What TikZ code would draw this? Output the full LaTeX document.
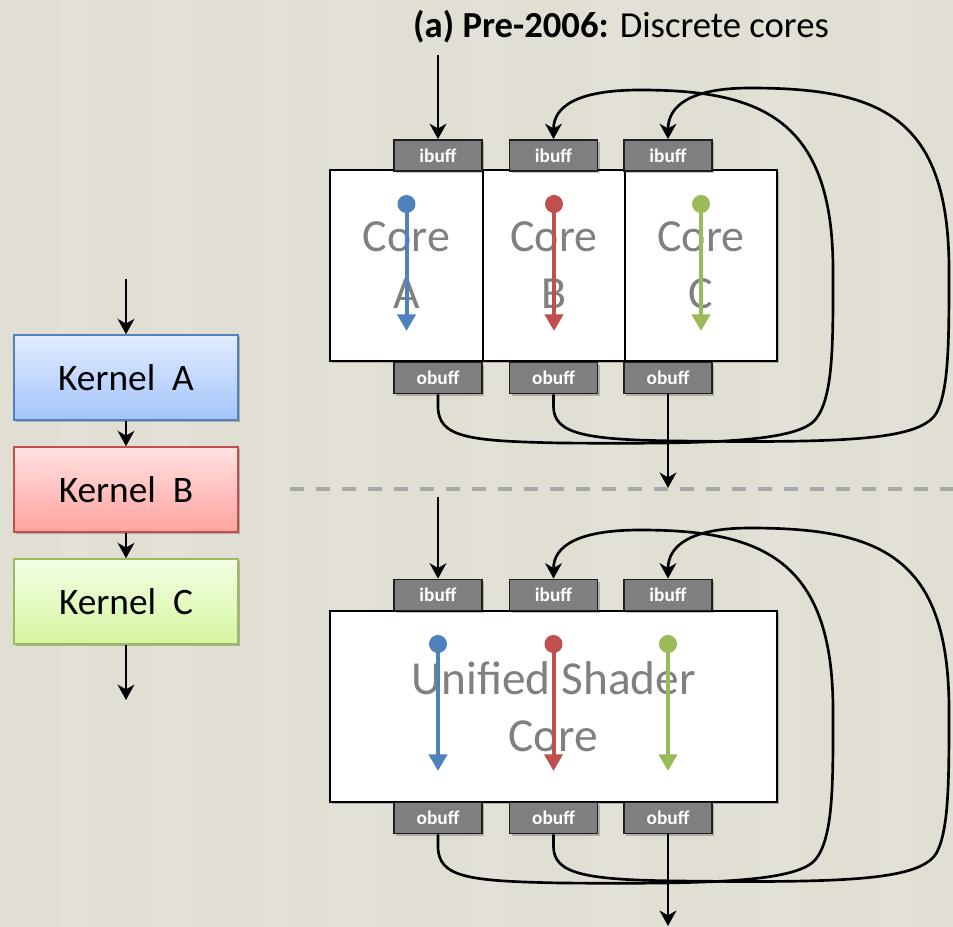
\documentclass[tikz,border=0pt]{standalone}
\usepackage{fontspec}
\setmainfont{Carlito}
\usetikzlibrary{arrows.meta,shadows,calc}

\definecolor{bgbeige}{RGB}{225,222,212}
\definecolor{bgstripe}{RGB}{231,228,219}
\definecolor{buffgray}{RGB}{127,127,127}
\definecolor{buffedge}{RGB}{30,30,30}
\definecolor{labelgray}{RGB}{128,128,128}
\definecolor{sepgray}{RGB}{168,168,168}
\definecolor{flowblue}{RGB}{79,129,189}
\definecolor{flowred}{RGB}{192,80,77}
\definecolor{flowgreen}{RGB}{155,187,89}
\definecolor{kAtop}{RGB}{226,236,255}
\definecolor{kAbot}{RGB}{163,196,250}
\definecolor{kBtop}{RGB}{255,226,226}
\definecolor{kBbot}{RGB}{255,163,158}
\definecolor{kCtop}{RGB}{242,255,228}
\definecolor{kCbot}{RGB}{214,245,160}

\begin{document}
\begin{tikzpicture}[
  x=0.75pt, y=-0.75pt,
  softshadow/.style={drop shadow={shadow xshift=1.5pt, shadow yshift=-1.5pt, opacity=0.22, fill=black}},
  kernel/.style={draw, line width=1.1pt, minimum width=168pt, minimum height=63.75pt,
    inner sep=0pt, font={\fontsize{28}{33}\selectfont}, softshadow},
  corebox/.style={draw=black, fill=white, line width=1.5pt, minimum height=143.25pt,
    inner sep=0pt, align=center, text=labelgray,
    font={\fontsize{34.5}{42.75}\selectfont}, softshadow},
  buff/.style={draw=buffedge, fill=buffgray, line width=1.3pt, minimum width=66pt,
    minimum height=23.25pt, inner sep=0pt, text=white,
    font={\fontsize{14.5}{17}\selectfont\bfseries}, softshadow},
  link/.style={draw=black, line width=2pt,
    -{Stealth[length=11.5pt, width=12.5pt, inset=3.5pt]}},
  wire/.style={link},
  flow/.style={draw=#1, line width=3pt,
    {Circle[length=13.5pt, width=13.5pt]}-{Triangle[length=12.5pt, width=13.5pt]}},
  sep/.style={draw=sepgray, line width=3pt, dash pattern=on 10.5pt off 9pt}
]

% backdrop
\fill[bgbeige] (0,0) rectangle (953,927);
\foreach \sx/\sw in {60/30, 150/40, 265/25, 330/45, 470/35, 590/50, 760/40, 880/30}
  \fill[bgstripe, opacity=0.45] (\sx,0) rectangle ++(\sw,927);
\useasboundingbox (0,0) rectangle (953,927);

% ---------- kernel chain ----------
\node[kernel, top color=kAtop, bottom color=kAbot, draw=flowblue]  (kA) at (126,377.5) {Kernel\ \ A};
\node[kernel, top color=kBtop, bottom color=kBbot, draw=flowred]   (kB) at (126,489.5) {Kernel\ \ B};
\node[kernel, top color=kCtop, bottom color=kCbot, draw=flowgreen] (kC) at (126,601.5) {Kernel\ \ C};
\coordinate (kin)  at (126,279);
\coordinate (kout) at (126,700);
\draw[link] (kin) -- (kA);
\draw[link] (kA) -- (kB);
\draw[link] (kB) -- (kC);
\draw[link] (kC) -- (kout);

% ---------- (a) discrete cores ----------
\node[font={\fontsize{27.5}{32}\selectfont}] (title) at (621,27)
  {\textbf{(a) Pre-2006:} Discrete cores};

\node[corebox, minimum width=114.75pt] (coreA) at (406.5,265.5) {Core\\A};
\node[corebox, minimum width=106.5pt]  (coreB) at (554,265.5)   {Core\\B};
\node[corebox, minimum width=114pt]    (coreC) at (701,265.5)   {Core\\C};

\draw[flow=flowblue]  ($(coreA.north)+(0,26)$) -- ($(coreA.south)+(0,-31)$);
\draw[flow=flowred]   ($(coreB.north)+(0,26)$) -- ($(coreB.south)+(0,-31)$);
\draw[flow=flowgreen] ($(coreC.north)+(0,26)$) -- ($(coreC.south)+(0,-31)$);

\node[buff] (ibA) at (438,155.5)   {ibuff};
\node[buff] (ibB) at (553.5,155.5) {ibuff};
\node[buff] (ibC) at (668,155.5)   {ibuff};
\node[buff] (obA) at (438,378)     {obuff};
\node[buff] (obB) at (553.5,378)   {obuff};
\node[buff] (obC) at (668,378)     {obuff};

\coordinate (inTop)  at (438,55);
\coordinate (outTop) at (668,488);
\draw[link] (inTop) -- (ibA);
\draw[link] (obC) -- (outTop);

% output A feeds input B, output B feeds input C
\draw[wire] (obA.south) -- ++(0,12)
  .. controls (438,438) and (470,441) .. (560,443)
  .. controls (700,444) and (795,443) .. (815,420)
  .. controls (834,398) and (833,340) .. (833,270)
  .. controls (833,118) and (760,90) .. (640,90)
  .. controls (578,90) and (553.5,106) .. (ibB.north);
\draw[wire] (obB.south) -- ++(0,12)
  .. controls (553.5,434) and (585,440) .. (680,441)
  .. controls (850,443) and (922,440) .. (937,412)
  .. controls (949,388) and (949,340) .. (949,270)
  .. controls (949,116) and (880,88) .. (750,88)
  .. controls (690,88) and (668,106) .. (ibC.north);

% divider
\coordinate (sepL) at (290,489);
\coordinate (sepR) at (953,489);
\draw[sep] (sepL) -- (sepR);

% ---------- unified shader core ----------
\node[corebox, minimum width=335.25pt, font={\fontsize{35.5}{43}\selectfont}] (uni) at (553.5,706.5) {Unified Shader\\Core};

\node[buff] (ibA2) at (438,595)   {ibuff};
\node[buff] (ibB2) at (553.5,595) {ibuff};
\node[buff] (ibC2) at (668,595)   {ibuff};
\node[buff] (obA2) at (438,818)   {obuff};
\node[buff] (obB2) at (553.5,818) {obuff};
\node[buff] (obC2) at (668,818)   {obuff};

\draw[flow=flowblue]  ($(ibA2 |- uni.north)+(0,25)$) -- ($(ibA2 |- uni.south)+(0,-32)$);
\draw[flow=flowred]   ($(ibB2 |- uni.north)+(0,25)$) -- ($(ibB2 |- uni.south)+(0,-32)$);
\draw[flow=flowgreen] ($(ibC2 |- uni.north)+(0,25)$) -- ($(ibC2 |- uni.south)+(0,-32)$);

\coordinate (inBot)  at (438,497);
\coordinate (outBot) at (668,926);
\draw[link] (inBot) -- (ibA2);
\draw[link] (obC2) -- (outBot);

\draw[wire] (obA2.south) -- ++(0,12)
  .. controls (438,878) and (470,881) .. (560,883)
  .. controls (700,884) and (795,883) .. (815,860)
  .. controls (834,838) and (833,780) .. (833,710)
  .. controls (833,558) and (760,530) .. (640,530)
  .. controls (578,530) and (553.5,546) .. (ibB2.north);
\draw[wire] (obB2.south) -- ++(0,12)
  .. controls (553.5,874) and (585,880) .. (680,881)
  .. controls (850,883) and (922,880) .. (937,852)
  .. controls (949,828) and (949,780) .. (949,710)
  .. controls (949,556) and (880,528) .. (750,528)
  .. controls (690,528) and (668,546) .. (ibC2.north);

\end{tikzpicture}
\end{document}
